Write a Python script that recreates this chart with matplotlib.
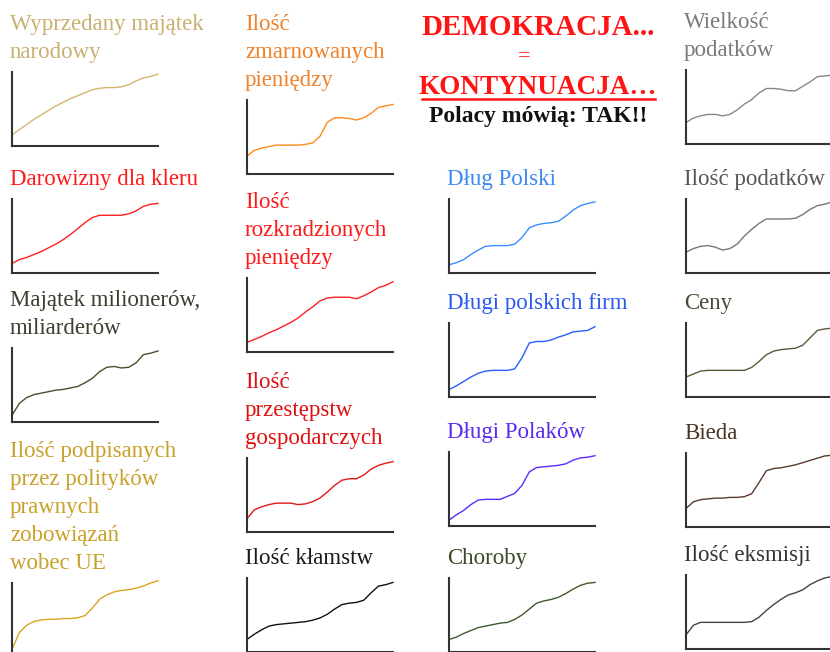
import matplotlib
matplotlib.use("Agg")
import matplotlib.pyplot as plt
from matplotlib.lines import Line2D

W, H = 830, 652

# shared x grid (percent of axis length)
x_pts = list(range(0, 101, 5))

# series values, percent of axis height
wyprzedany = [15, 22, 29, 36, 42, 48, 54, 59, 64, 68, 72, 76, 78, 79, 79, 80, 83, 88, 92, 94, 97]
darowizny = [13, 18, 21, 25, 29, 34, 39, 45, 52, 60, 68, 75, 78, 78, 78, 78, 80, 84, 90, 93, 94]
milionerzy = [9, 25, 33, 37, 39, 41, 43, 44, 46, 48, 53, 59, 68, 74, 75, 73, 74, 80, 91, 93, 96]
zobowiazania = [10, 33, 43, 48, 50, 51, 51, 52, 52, 53, 56, 66, 78, 84, 88, 90, 91, 93, 96, 100, 103]
zmarnowane = [24, 32, 35, 37, 39, 39, 39, 39, 40, 42, 51, 70, 76, 76, 75, 73, 76, 82, 90, 92, 94]
rozkradzione = [13, 17, 21, 26, 30, 35, 40, 46, 54, 61, 69, 73, 74, 74, 74, 72, 76, 81, 87, 90, 95]
przestepstwa = [18, 30, 34, 37, 39, 39, 39, 37, 38, 41, 46, 54, 63, 70, 72, 72, 77, 85, 90, 93, 95]
klamstwa = [17, 24, 30, 35, 37, 38, 39, 40, 41, 43, 46, 51, 58, 64, 66, 67, 70, 80, 89, 91, 94]
dlug_polski = [11, 14, 18, 25, 31, 36, 37, 37, 37, 39, 48, 61, 65, 67, 68, 70, 77, 85, 91, 94, 96]
dlugi_firm = [10, 15, 21, 27, 32, 35, 36, 36, 36, 38, 53, 73, 75, 75, 77, 81, 84, 88, 89, 90, 95]
dlugi_polakow = [8, 15, 21, 29, 35, 36, 36, 36, 40, 44, 55, 73, 79, 80, 81, 82, 84, 89, 92, 93, 95]
choroby = [17, 20, 25, 29, 33, 35, 37, 39, 40, 44, 50, 58, 66, 69, 71, 74, 79, 85, 90, 93, 94]
wielkosc_podatkow = [29, 35, 38, 40, 40, 38, 40, 46, 54, 60, 69, 75, 75, 74, 72, 72, 78, 84, 91, 92, 93]
ilosc_podatkow = [28, 33, 36, 37, 35, 31, 33, 39, 50, 59, 67, 73, 73, 73, 73, 74, 79, 86, 91, 93, 96]
ceny = [27, 31, 35, 36, 36, 36, 36, 36, 36, 40, 48, 57, 62, 64, 65, 66, 70, 80, 90, 92, 93]
bieda = [25, 34, 37, 38, 39, 39, 40, 40, 41, 45, 60, 76, 79, 80, 82, 84, 87, 90, 93, 96, 97]
eksmisje = [19, 32, 36, 36, 36, 36, 36, 36, 36, 37, 43, 52, 60, 67, 73, 76, 80, 87, 92, 96, 98]

plt.rcParams['font.family'] = ['Liberation Serif', 'DejaVu Serif']

fig = plt.figure(figsize=(W / 100, H / 100), dpi=100)


def small_chart(x0, top, title, title_color, values, line_color):
    # axes placed in pixel units: left x0, top edge at `top`
    ax = fig.add_axes([x0 / W, 1 - (top + 74) / H, 146 / W, 74 / H])
    ax.plot(x_pts, values, color=line_color, lw=1.0, clip_on=False)
    ax.set_xlim(0, 100)
    ax.set_ylim(0, 100)
    ax.set_xticks([])
    ax.set_yticks([])
    for s in ['top', 'right']:
        ax.spines[s].set_visible(False)
    for s in ['left', 'bottom']:
        ax.spines[s].set_color('#333333')
        ax.spines[s].set_linewidth(1.5)
    ax.patch.set_alpha(0)

    lines = title.split('\n')
    base = top - 14
    for i, ln in enumerate(reversed(lines)):
        fig.text((x0 - 2) / W, 1 - (base - 28 * i) / H, ln, color=title_color,
                 fontsize=16.5, ha='left', va='baseline')


# column 1
small_chart(12, 72, 'Wyprzedany majątek\nnarodowy', '#C8B070', wyprzedany, '#D2B66C')
small_chart(12, 199, 'Darowizny dla kleru', '#FF1A1A', darowizny, '#FF2020')
small_chart(12, 348, 'Majątek milionerów,\nmiliarderów', '#3E3E2E', milionerzy, '#4C4C2C')
small_chart(12, 583, 'Ilość podpisanych\nprzez polityków\nprawnych\nzobowiązań\nwobec UE',
            '#C9A02A', zobowiazania, '#D9A521')

# column 2
small_chart(247, 100, 'Ilość\nzmarnowanych\npieniędzy', '#F0822A', zmarnowane, '#FF8A1C')
small_chart(247, 278, 'Ilość\nrozkradzionych\npieniędzy', '#FF1A1A', rozkradzione, '#FF2020')
small_chart(247, 458, 'Ilość\nprzestępstw\ngospodarczych', '#E01010', przestepstwa, '#E01818')
small_chart(247, 578, 'Ilość kłamstw', '#1A1A1A', klamstwa, '#111111')

# column 3
small_chart(449, 199, 'Dług Polski', '#3A8AF0', dlug_polski, '#3A8CFF')
small_chart(449, 323, 'Długi polskich firm', '#2A5AF0', dlugi_firm, '#2A5CFF')
small_chart(449, 452, 'Długi Polaków', '#5A2AF0', dlugi_polakow, '#5A2AFF')
small_chart(449, 578, 'Choroby', '#3A4A2A', choroby, '#3E5A2A')

# column 4
small_chart(686, 70, 'Wielkość\npodatków', '#7A7A7A', wielkosc_podatkow, '#888888')
small_chart(686, 199, 'Ilość podatków', '#555555', ilosc_podatkow, '#777777')
small_chart(686, 323, 'Ceny', '#4A4A34', ceny, '#5A5A38')
small_chart(686, 453, 'Bieda', '#4A3428', bieda, '#5A3A2E')
small_chart(686, 575, 'Ilość eksmisji', '#333333', eksmisje, '#444444')

# headline block
fig.text(538 / W, 1 - 35 / H, 'DEMOKRACJA...', color='#FF1414', fontsize=21,
         fontweight='bold', ha='center', va='baseline')
fig.text(524 / W, 1 - 57 / H, '=', color='#FF1414', fontsize=16,
         ha='center', va='center')
fig.text(538 / W, 1 - 94 / H, 'KONTYNUACJA…', color='#FF1414', fontsize=19.5,
         fontweight='bold', ha='center', va='baseline')
fig.add_artist(Line2D([422 / W, 655 / W], [1 - 99 / H, 1 - 99 / H],
                      color='#FF1414', lw=1.8))
fig.text(538 / W, 1 - 122 / H, 'Polacy mówią: TAK!!', color='#111111', fontsize=17,
         fontweight='bold', ha='center', va='baseline')

fig.savefig('out.png', dpi=100)
